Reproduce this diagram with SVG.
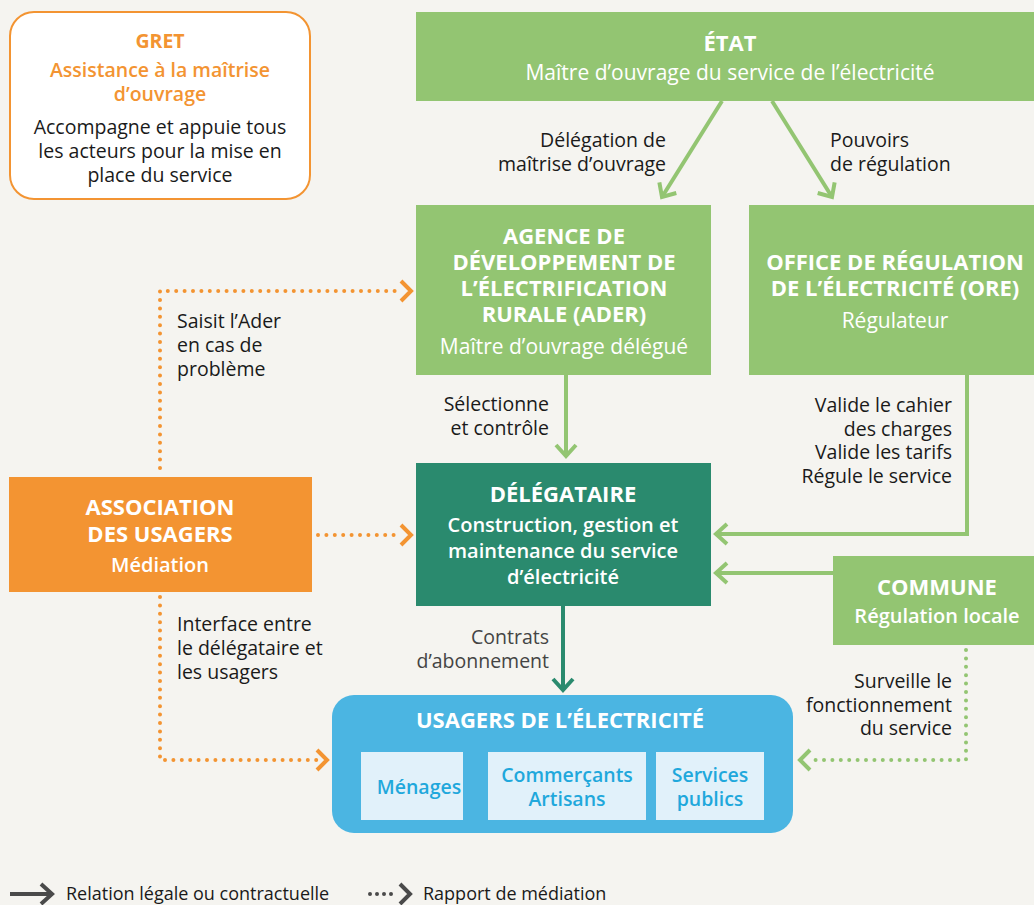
<svg xmlns="http://www.w3.org/2000/svg" width="1034" height="905" viewBox="0 0 1034 905">
<defs>
<style>
text{font-family:"Open Sans","Noto Sans",sans-serif;font-size:19.5px}
.lbl{fill:#1a1a1a}
.r{text-anchor:end}
.m{text-anchor:middle}
.wt{fill:#fff;font-weight:bold;text-anchor:middle;font-size:22px}
.ws{fill:#fff;text-anchor:middle;font-size:21px}
.wm{fill:#fff;font-weight:600;text-anchor:middle;font-size:20px}
.in{fill:#1fa8dc;font-weight:600;text-anchor:middle}
.g{fill:#93c572}
.solid{fill:none;stroke:#93c572;stroke-width:4}
.dot{fill:none;stroke-width:4;stroke-linecap:round;stroke-dasharray:0 8.4}
.lg{font-size:18px;fill:#1a1a1a}
</style>
<marker id="ag" markerUnits="userSpaceOnUse" viewBox="-14 -12 16 24" markerWidth="16" markerHeight="24" refX="0" refY="0" orient="auto" overflow="visible">
<path d="M-11,-10 L0,0 L-11,10" fill="none" stroke="#93c572" stroke-width="4"/>
</marker>
<marker id="ad" markerUnits="userSpaceOnUse" viewBox="-14 -12 16 24" markerWidth="16" markerHeight="24" refX="0" refY="0" orient="auto" overflow="visible">
<path d="M-11,-10 L0,0 L-11,10" fill="none" stroke="#2a8a6e" stroke-width="4"/>
</marker>
<marker id="ak" markerUnits="userSpaceOnUse" viewBox="-14 -12 16 24" markerWidth="16" markerHeight="24" refX="0" refY="0" orient="auto" overflow="visible">
<path d="M-11,-10 L0,0 L-11,10" fill="none" stroke="#4a4a4a" stroke-width="4"/>
</marker>
</defs>
<rect width="1034" height="905" fill="#f5f4f0"/>

<g id="connectors">
<line class="solid" x1="722" y1="101" x2="662" y2="197" marker-end="url(#ag)"/>
<line class="solid" x1="772" y1="101" x2="832" y2="197" marker-end="url(#ag)"/>
<line class="solid" x1="566" y1="375" x2="566" y2="456" marker-end="url(#ag)"/>
<polyline class="solid" points="967,375 967,534 716,534" marker-end="url(#ag)"/>
<line class="solid" x1="833" y1="573" x2="716" y2="573" marker-end="url(#ag)"/>
<line x1="563" y1="606" x2="563" y2="690" stroke="#2a8a6e" stroke-width="4" marker-end="url(#ad)"/>
<polyline class="dot" stroke="#f39432" points="160,468 160,291 398,291"/>
<polyline fill="none" stroke="#f39432" stroke-width="4" points="401,281 411,291 401,301"/>
<polyline class="dot" stroke="#f39432" points="318,535 398,535"/>
<polyline fill="none" stroke="#f39432" stroke-width="4" points="401,525 411,535 401,545"/>
<polyline class="dot" stroke="#f39432" points="160,597 160,760 318,760"/>
<polyline fill="none" stroke="#f39432" stroke-width="4" points="317,750 327,760 317,770"/>
<polyline class="dot" stroke="#93c572" points="966,650 966,760 812,760"/>
<polyline fill="none" stroke="#93c572" stroke-width="4" points="810,750 800,760 810,770"/>
</g>

<g id="gret">
<rect x="10" y="12" width="300" height="187" rx="24" fill="#fff" stroke="#f39432" stroke-width="2"/>
<text x="160" y="48" class="m" fill="#f39432" font-weight="bold" font-size="20">GRET</text>
<text x="160" y="77" class="m" fill="#f39432" font-weight="600">Assistance à la maîtrise</text>
<text x="160" y="101" class="m" fill="#f39432" font-weight="600">d’ouvrage</text>
<text x="160" y="134" class="m lbl">Accompagne et appuie tous</text>
<text x="160" y="158" class="m lbl">les acteurs pour la mise en</text>
<text x="160" y="182" class="m lbl">place du service</text>
</g>

<g id="etat">
<rect x="416" y="12" width="618" height="89" class="g"/>
<text x="730" y="51" class="wt">ÉTAT</text>
<text x="730" y="80" class="ws">Maître d’ouvrage du service de l’électricité</text>
</g>

<g id="ader">
<rect x="416" y="205" width="295" height="170" class="g"/>
<text x="564" y="244" class="wt">AGENCE DE</text>
<text x="564" y="270" class="wt">DÉVELOPPEMENT DE</text>
<text x="564" y="296" class="wt">L’ÉLECTRIFICATION</text>
<text x="564" y="322" class="wt">RURALE (ADER)</text>
<text x="564" y="354" class="ws">Maître d’ouvrage délégué</text>
</g>

<g id="ore">
<rect x="749" y="205" width="285" height="170" class="g"/>
<text x="895" y="270" class="wt">OFFICE DE RÉGULATION</text>
<text x="895" y="296" class="wt">DE L’ÉLECTRICITÉ (ORE)</text>
<text x="895" y="328" class="ws">Régulateur</text>
</g>

<g id="delegataire">
<rect x="416" y="463" width="295" height="143" fill="#2a8a6e"/>
<text x="563" y="502" class="wt">DÉLÉGATAIRE</text>
<text x="563" y="532" class="wm">Construction, gestion et</text>
<text x="563" y="558" class="wm">maintenance du service</text>
<text x="563" y="584" class="wm">d’électricité</text>
</g>

<g id="commune">
<rect x="833" y="556" width="201" height="89" class="g"/>
<text x="937" y="595" class="wt">COMMUNE</text>
<text x="937" y="623" class="wm">Régulation locale</text>
</g>

<g id="association">
<rect x="9" y="477" width="303" height="115" fill="#f39432"/>
<text x="160" y="515" class="wt">ASSOCIATION</text>
<text x="160" y="542" class="wt">DES USAGERS</text>
<text x="160" y="572" class="wm">Médiation</text>
</g>

<g id="usagers">
<rect x="332" y="695" width="461" height="138" rx="22" fill="#4bb5e2"/>
<text x="560" y="728" class="wt">USAGERS DE L’ÉLECTRICITÉ</text>
<rect x="361" y="752" width="102" height="68" fill="#e1f1fa"/>
<rect x="488" y="752" width="158" height="68" fill="#e1f1fa"/>
<rect x="656" y="752" width="108" height="68" fill="#e1f1fa"/>
<text x="419" y="794" class="in">Ménages</text>
<text x="567" y="782" class="in">Commerçants</text>
<text x="567" y="806" class="in">Artisans</text>
<text x="710" y="782" class="in">Services</text>
<text x="710" y="806" class="in">publics</text>
</g>

<g id="labels">
<text x="666" y="147" class="lbl r">Délégation de</text>
<text x="666" y="171" class="lbl r">maîtrise d’ouvrage</text>
<text x="830" y="147" class="lbl">Pouvoirs</text>
<text x="830" y="171" class="lbl">de régulation</text>
<text x="177" y="328" class="lbl">Saisit l’Ader</text>
<text x="177" y="352" class="lbl">en cas de</text>
<text x="177" y="376" class="lbl">problème</text>
<text x="549" y="411" class="lbl r">Sélectionne</text>
<text x="549" y="435" class="lbl r">et contrôle</text>
<text x="952" y="412" class="lbl r">Valide le cahier</text>
<text x="952" y="436" class="lbl r">des charges</text>
<text x="952" y="459" class="lbl r">Valide les tarifs</text>
<text x="952" y="483" class="lbl r">Régule le service</text>
<text x="177" y="631" class="lbl">Interface entre</text>
<text x="177" y="655" class="lbl">le délégataire et</text>
<text x="177" y="679" class="lbl">les usagers</text>
<text x="549" y="644" class="r" fill="#444">Contrats</text>
<text x="549" y="668" class="r" fill="#444">d’abonnement</text>
<text x="952" y="688" class="lbl r">Surveille le</text>
<text x="952" y="712" class="lbl r">fonctionnement</text>
<text x="952" y="735" class="lbl r">du service</text>
</g>

<g id="legend">
<line x1="10" y1="894" x2="52" y2="894" stroke="#4a4a4a" stroke-width="4" marker-end="url(#ak)"/>
<text x="66" y="900" class="lg">Relation légale ou contractuelle</text>
<line x1="370" y1="894" x2="396" y2="894" stroke="#4a4a4a" stroke-width="4" stroke-linecap="round" stroke-dasharray="0 7"/>
<polyline fill="none" stroke="#4a4a4a" stroke-width="4" points="400,884 410,894 400,904"/>
<text x="423" y="900" class="lg">Rapport de médiation</text>
</g>
</svg>
